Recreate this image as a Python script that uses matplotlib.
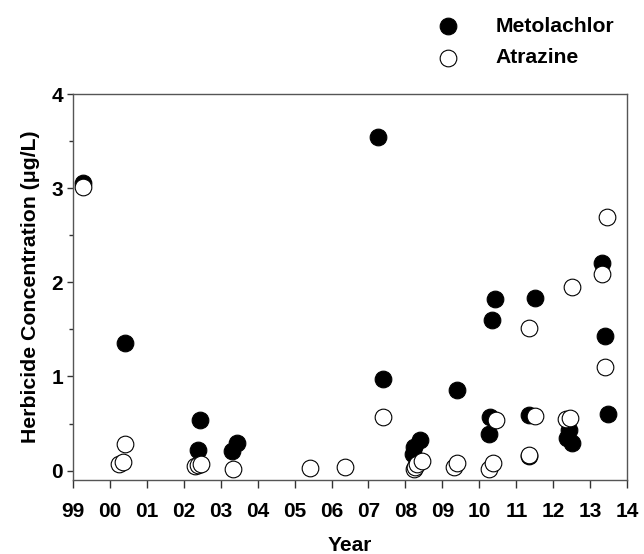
import matplotlib
matplotlib.use("Agg")
import matplotlib.pyplot as plt
from matplotlib.ticker import MultipleLocator

plt.rcParams['font.family'] = ['Liberation Sans', 'DejaVu Sans']
plt.rcParams['font.weight'] = 'bold'

# anos contados a partir de 1999
meto_x = [0.28, 1.41, 3.40, 3.44, 4.31, 4.44, 8.27, 8.39, 9.21, 9.22, 9.40,
          10.40, 11.27, 11.28, 11.35, 11.42, 12.34, 12.33, 12.50, 13.36, 13.42,
          13.50, 14.33, 14.40, 14.48]
meto_y = [3.06, 1.36, 0.22, 0.54, 0.21, 0.29, 3.55, 0.97, 0.18, 0.25, 0.32,
          0.86, 0.385, 0.57, 1.60, 1.82, 0.595, 0.15, 1.83, 0.35, 0.435,
          0.29, 2.21, 1.43, 0.60]

atra_x = [0.27, 1.26, 1.35, 1.41, 3.31, 3.40, 3.46, 4.33, 6.42, 7.37, 8.39,
          9.22, 9.27, 9.32, 9.45, 10.31, 10.40, 11.27, 11.36, 11.44, 12.35,
          12.34, 12.50, 13.33, 13.44, 13.50, 14.31, 14.40, 14.46]
atra_y = [3.01, 0.07, 0.095, 0.28, 0.045, 0.06, 0.065, 0.02, 0.03, 0.035, 0.57,
          0.02, 0.04, 0.065, 0.10, 0.035, 0.085, 0.02, 0.08, 0.535, 0.165,
          1.51, 0.58, 0.545, 0.56, 1.95, 2.085, 1.105, 2.70]

rotulos_x = ['99', '00', '01', '02', '03', '04', '05', '06', '07', '08',
             '09', '10', '11', '12', '13', '14']

fig = plt.figure(figsize=(6.44, 5.54), dpi=100)
ax = fig.add_axes([0.113, 0.1336, 0.861, 0.6964])

ax.scatter(meto_x, meto_y, s=144, c='black', edgecolors='black',
           linewidths=0.8, label='Metolachlor', zorder=3)
ax.scatter(atra_x, atra_y, s=144, c='white', edgecolors='black',
           linewidths=0.8, label='Atrazine', zorder=4)

ax.set_xlim(0, 15)
ax.set_ylim(-0.1, 4)
ax.set_xticks(range(16))
ax.set_xticklabels(rotulos_x)
ax.yaxis.set_major_locator(MultipleLocator(1))
ax.yaxis.set_minor_locator(MultipleLocator(0.5))

for s in ax.spines.values():
    s.set_color('#555555')
    s.set_linewidth(1.0)

ax.tick_params(axis='x', direction='out', length=6, width=1, color='#333333',
               pad=10, labelsize=15)
ax.tick_params(axis='y', which='major', direction='out', length=4, width=1,
               color='#333333', pad=3, labelsize=15)
ax.tick_params(axis='y', which='minor', direction='out', length=3, width=1,
               color='#333333')

ax.set_xlabel('Year', fontsize=15, fontweight='bold', labelpad=11)
ax.set_ylabel('Herbicide Concentration (\u03bcg/L)', fontsize=15.3,
              fontweight='bold', labelpad=8)

fig.legend(loc='upper left', bbox_to_anchor=(0.6625, 0.97), frameon=False,
           fontsize=15.2, handletextpad=1.25, labelspacing=0.6,
           borderpad=0, borderaxespad=0, scatterpoints=1)

fig.savefig('out.png', dpi=100)
